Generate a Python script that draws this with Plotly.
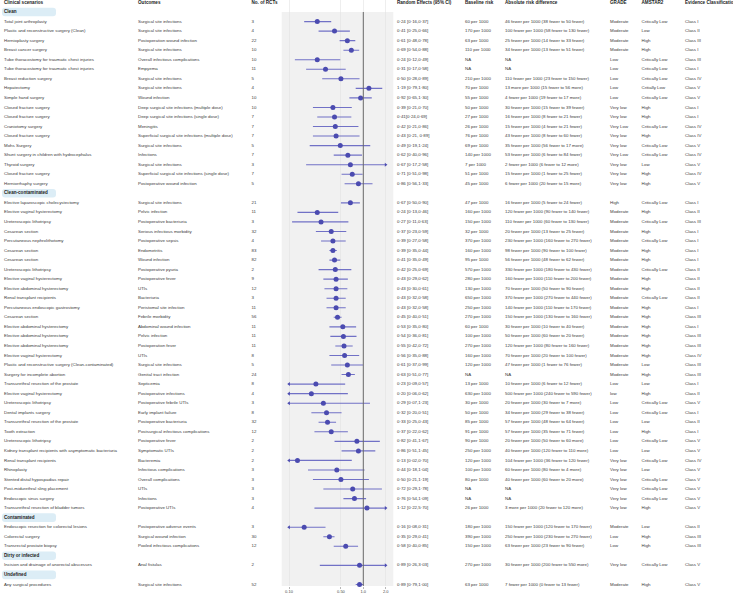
import math
import plotly.graph_objects as go

# ---------------- data ----------------
sections = ["Clean", "Clean-contaminated", "Contaminated", "Dirty or infected", "Undefined"]
section_sizes = [18, 33, 3, 1, 1]

scenarios = [
    "Total joint arthroplasty", "Plastic and reconstructive surgery (Clean)", "Hernioplasty surgery",
    "Breast cancer surgery", "Tube thoracostomy for traumatic chest injuries",
    "Tube thoracostomy for traumatic chest injuries", "Breast reduction surgery", "Hepatectomy",
    "Simple hand surgery", "Closed fracture surgery", "Closed fracture surgery", "Craniotomy surgery",
    "Closed fracture surgery", "Mohs Surgery", "Shunt surgery in children with hydrocephalus",
    "Thyroid surgery", "Closed fracture surgery", "Herniorrhaphy surgery",
    "Elective laparoscopic cholecystectomy", "Elective vaginal hysterectomy", "Ureteroscopic lithotripsy",
    "Cesarean section", "Percutaneous nephrolithotomy", "Cesarean section", "Cesarean section",
    "Ureteroscopic lithotripsy", "Elective vaginal hysterectomy", "Elective abdominal hysterectomy",
    "Renal transplant recipients", "Percutaneous endoscopic gastrostomy", "Cesarean section",
    "Elective abdominal hysterectomy", "Elective abdominal hysterectomy", "Elective abdominal hysterectomy",
    "Elective vaginal hysterectomy", "Plastic and reconstructive surgery (Clean-contaminated)",
    "Surgery for incomplete abortion", "Transurethral resection of the prostate",
    "Elective vaginal hysterectomy", "Ureteroscopic lithotripsy", "Dental implants surgery",
    "Transurethral resection of the prostate", "Tooth extraction", "Ureteroscopic lithotripsy",
    "Kidney transplant recipients with asymptomatic bacteriuria", "Renal transplant recipients",
    "Rhinoplasty", "Stented distal hypospadias repair", "Post-midurethral sling placement",
    "Endoscopic sinus surgery", "Transurethral resection of bladder tumors",
    "Endoscopic resection for colorectal lesions", "Colorectal surgery", "Transrectal prostate biopsy",
    "Incision and drainage of anorectal abscesses",
    "Any surgical procedures",
]

outcomes = [
    "Surgical site infections", "Surgical site infections", "Postoperation wound infection",
    "Surgical site infections", "Overall infectious complications", "Empyema", "Surgical site infections",
    "Surgical site infections", "Wound infection", "Deep surgical site infections (multiple dose)",
    "Deep surgical site infections (single dose)", "Meningitis",
    "Superficial surgical site infections (multiple dose)", "Surgical site infections", "Infections",
    "Surgical site infections", "Superficial surgical site infections (single dose)",
    "Postoperative wound infection",
    "Surgical site infections", "Pelvic infection", "Postoperative bacteriuria",
    "Serious infectious morbidity", "Postoperative sepsis", "Endometritis", "Wound infection",
    "Postoperative pyuria", "Postoperative fever", "UTIs", "Bacteriuria", "Peristomal site infection",
    "Febrile morbidity", "Abdominal wound infection", "Pelvic infection", "Postoperation fever", "UTIs",
    "Surgical site infections", "Genital tract infection", "Septicemia", "Postoperative infections",
    "Postoperative febrile UTIs", "Early implant failure", "Postoperative bacteriuria",
    "Postsurgical infectious complications", "Postoperative fever", "Symptomatic UTIs", "Bacteremia",
    "Infectious complications", "Overall complications", "UTIs", "Infections", "Postoperative UTIs",
    "Postoperative adverse events", "Surgical wound infection", "Pooled infectious complications",
    "Anal fistulas",
    "Surgical site infections",
]

n_rcts = [3, 4, 22, 10, 10, 11, 5, 4, 10, 10, 7, 7, 7, 5, 7, 3, 7, 5,
          21, 11, 3, 32, 4, 83, 82, 2, 9, 12, 3, 11, 56, 11, 11, 11, 8, 5, 24, 8, 4, 3, 8, 32, 12,
          2, 2, 2, 3, 3, 3, 3, 4,
          3, 30, 12,
          2,
          52]

est = [0.24, 0.41, 0.61, 0.69, 0.24, 0.31, 0.50, 1.19, 0.92, 0.39, 0.41, 0.42, 0.43, 0.49, 0.62, 0.67, 0.71, 0.86,
       0.67, 0.24, 0.27, 0.37, 0.39, 0.39, 0.41, 0.42, 0.43, 0.43, 0.43, 0.43, 0.45, 0.53, 0.54, 0.55, 0.56, 0.61,
       0.63, 0.23, 0.20, 0.29, 0.32, 0.33, 0.37, 0.82, 0.86, 0.13, 0.44, 0.50, 0.72, 0.76, 1.12,
       0.16, 0.35, 0.58,
       0.89,
       0.89]
ci_low = [0.16, 0.25, 0.48, 0.54, 0.12, 0.17, 0.28, 0.79, 0.65, 0.21, 0.24, 0.21, 0.21, 0.19, 0.40, 0.17, 0.51, 0.56,
          0.50, 0.13, 0.11, 0.23, 0.27, 0.35, 0.35, 0.25, 0.29, 0.30, 0.32, 0.32, 0.40, 0.35, 0.36, 0.42, 0.35, 0.37,
          0.51, 0.09, 0.06, 0.07, 0.20, 0.25, 0.22, 0.41, 0.51, 0.02, 0.18, 0.21, 0.29, 0.54, 0.22,
          0.08, 0.29, 0.40,
          0.26,
          0.79]
ci_high = [0.37, 0.66, 0.78, 0.88, 0.49, 0.58, 0.89, 1.80, 1.30, 0.70, 0.69, 0.86, 0.89, 1.24, 0.96, 2.58, 0.98, 1.33,
           0.90, 0.46, 0.63, 0.59, 0.58, 0.44, 0.49, 0.69, 0.62, 0.61, 0.58, 0.58, 0.51, 0.80, 0.81, 0.72, 0.88, 0.99,
           0.77, 0.57, 0.62, 1.23, 0.51, 0.43, 0.62, 1.67, 1.45, 0.70, 1.04, 1.19, 1.78, 1.09, 5.70,
           0.31, 0.41, 0.85,
           3.03,
           1.00]

re_labels = [
    "0·24 [0·16,0·37]", "0·41 [0·25,0·66]", "0·61 [0·48,0·78]", "0·69 [0·54,0·88]", "0·24 [0·12,0·49]",
    "0·31 [0·17,0·58]", "0·50 [0·28,0·89]", "1·19 [0·79,1·80]", "0·92 [0·65,1·30]", "0·39 [0·21,0·70]",
    "0·41[0·24,0·69]", "0·42 [0·21,0·86]", "0·43 [0·21, 0·89]", "0·49 [0·19,1·24]", "0·62 [0·40,0·96]",
    "0·67 [0·17,2·58]", "0·71 [0·51,0·98]", "0·86 [0·56,1·33]",
    "0·67 [0·50,0·90]", "0·24 [0·13,0·46]", "0·27 [0·11,0·63]", "0·37 [0·23,0·59]", "0·39 [0·27,0·58]",
    "0·39 [0·35,0·44]", "0·41 [0·35,0·49]", "0·42 [0·25,0·69]", "0·43 [0·29,0·62]", "0·43 [0·30,0·61]",
    "0·43 [0·32,0·58]", "0·43 [0·32,0·58]", "0·45 [0·40,0·51]", "0·53 [0·35,0·80]", "0·54 [0·36,0·81]",
    "0·55 [0·42,0·72]", "0·56 [0·35,0·88]", "0·61 [0·37,0·99]", "0·63 [0·51,0·77]", "0·23 [0·09,0·57]",
    "0·20 [0·06,0·62]", "0·29 [0·07,1·23]", "0·32 [0·20,0·51]", "0·33 [0·25,0·43]", "0·37 [0·22,0·62]",
    "0·82 [0·41,1·67]", "0·86 [0·51,1·45]", "0·13 [0·02,0·70]", "0·44 [0·18,1·04]", "0·50 [0·21,1·19]",
    "0·72 [0·29,1·78]", "0·76 [0·54,1·09]", "1·12 [0·22,5·70]",
    "0·16 [0·08,0·31]", "0·35 [0·29,0·41]", "0·58 [0·40,0·85]",
    "0·89 [0·26,3·03]",
    "0·89 [0·79,1·00]",
]

baseline = [
    "60 per 1000", "170 per 1000", "63 per 1000", "110 per 1000", "NA", "NA", "210 per 1000", "70 per 1000",
    "55 per 1000", "50 per 1000", "27 per 1000", "26 per 1000", "76 per 1000", "69 per 1000", "140 per 1000",
    "7 per 1000", "51 per 1000", "45 per 1000",
    "47 per 1000", "160 per 1000", "150 per 1000", "32 per 1000", "370 per 1000", "160 per 1000", "95 per 1000",
    "570 per 1000", "280 per 1000", "130 per 1000", "650 per 1000", "250 per 1000", "270 per 1000",
    "60 per 1000", "100 per 1000", "270 per 1000", "160 per 1000", "120 per 1000", "NA", "13 per 1000",
    "630 per 1000", "30 per 1000", "50 per 1000", "85 per 1000", "91 per 1000", "90 per 1000", "250 per 1000",
    "120 per 1000", "100 per 1000", "80 per 1000", "NA", "NA", "26 per 1000",
    "180 per 1000", "390 per 1000", "150 per 1000",
    "270 per 1000",
    "63 per 1000",
]

ard = [
    "46 fewer per 1000 (38 fewer to 50 fewer)", "100 fewer per 1000 (58 fewer to 130 fewer)",
    "25 fewer per 1000 (14 fewer to 33 fewer)", "34 fewer per 1000 (13 fewer to 51 fewer)", "NA", "NA",
    "110 fewer per 1000 (23 fewer to 150 fewer)", "13 more per 1000 (15 fewer to 56 more)",
    "4 fewer per 1000 (19 fewer to 17 more)", "30 fewer per 1000 (15 fewer to 39 fewer)",
    "16 fewer per 1000 (8 fewer to 21 fewer)", "15 fewer per 1000 (4 fewer to 21 fewer)",
    "43 fewer per 1000 (8 fewer to 60 fewer)", "35 fewer per 1000 (56 fewer to 17 more)",
    "53 fewer per 1000 (6 fewer to 84 fewer)", "2 fewer per 1000 (6 fewer to 12 more)",
    "15 fewer per 1000 (1 fewer to 25 fewer)", "6 fewer per 1000 (20 fewer to 15 more)",
    "16 fewer per 1000 (5 fewer to 24 fewer)", "120 fewer per 1000 (90 fewer to 140 fewer)",
    "110 fewer per 1000 (60 fewer to 130 fewer)", "20 fewer per 1000 (13 fewer to 25 fewer)",
    "230 fewer per 1000 (160 fewer to 270 fewer)", "98 fewer per 1000 (90 fewer to 100 fewer)",
    "56 fewer per 1000 (48 fewer to 62 fewer)", "330 fewer per 1000 (180 fewer to 430 fewer)",
    "160 fewer per 1000 (110 fewer to 200 fewer)", "70 fewer per 1000 (50 fewer to 90 fewer)",
    "370 fewer per 1000 (270 fewer to 440 fewer)", "140 fewer per 1000 (110 fewer to 170 fewer)",
    "150 fewer per 1000 (130 fewer to 160 fewer)", "30 fewer per 1000 (10 fewer to 40 fewer)",
    "50 fewer per 1000 (60 fewer to 20 fewer)", "120 fewer per 1000 (80 fewer to 160 fewer)",
    "70 fewer per 1000 (20 fewer to 100 fewer)", "47 fewer per 1000 (1 fewer to 76 fewer)", "NA",
    "10 fewer per 1000 (6 fewer to 12 fewer)", "500 fewer per 1000 (240 fewer to 590 fewer)",
    "20 fewer per 1000 (30 fewer to 7 more)", "34 fewer per 1000 (29 fewer to 38 fewer)",
    "57 fewer per 1000 (48 fewer to 64 fewer)", "57 fewer per 1000 (35 fewer to 71 fewer)",
    "20 fewer per 1000 (50 fewer to 60 more)", "40 fewer per 1000 (120 fewer to 110 more)",
    "104 fewer per 1000 (36 fewer to 120 fewer)", "60 fewer per 1000 (80 fewer to 4 more)",
    "40 fewer per 1000 (60 fewer to 20 more)", "NA", "NA", "3 more per 1000 (20 fewer to 120 more)",
    "150 fewer per 1000 (120 fewer to 170 fewer)", "250 fewer per 1000 (230 fewer to 270 fewer)",
    "63 fewer per 1000 (23 fewer to 90 fewer)",
    "30 fewer per 1000 (200 fewer to 550 more)",
    "7 fewer per 1000 (0 fewer to 13 fewer)",
]

grade = (["Moderate"] * 4 + ["Low"] * 5 + ["Very low", "Very low", "Very Low", "Very low", "Very low",
                                              "Very Low", "Very low", "Very low", "Very low"]
         + ["High"] + ["Moderate"] * 18 + ["Low", "low", "Low", "Low", "Low", "Low", "Low", "Low"]
         + ["Very low"] * 6
         + ["Moderate", "Low", "Low"] + ["Very low"] + ["Moderate"])

amstar = [
    "Critically Low", "Low", "High", "High", "Critically Low", "Critically Low", "Critically Low",
    "Critially Low", "Critically Low", "High", "High", "Critically Low", "High", "Critically Low",
    "Critically Low", "Low", "High", "High",
    "Critically Low", "High", "Critically Low", "High", "Critically Low", "High", "High", "Critically Low",
    "High", "High", "Critically Low", "High", "High", "High", "High", "High", "High", "Low", "High", "Low",
    "High", "Critically Low", "Critically Low", "Low", "High", "Critically Low", "Low", "Critically Low",
    "Low", "Critically Low", "Critically Low", "Critically Low", "High",
    "Low", "High", "High",
    "Critically Low",
    "High",
]

evidence = [
    "Class I", "Class II", "Class III", "Class I", "Class III", "Class I", "Class IV", "Class V", "Class V",
    "Class I", "Class I", "Class IV", "Class IV", "Class V", "Class IV", "Class V", "Class IV", "Class V",
    "Class I", "Class II", "Class III", "Class I", "Class I", "Class I", "Class I", "Class II", "Class II",
    "Class II", "Class II", "Class I", "Class III", "Class I", "Class III", "Class III", "Class IV",
    "Class III", "Class III", "Class I", "Class II", "Class V", "Class I", "Class II", "Class I", "Class V",
    "Class V", "Class IV", "Class V", "Class V", "Class V", "Class V", "Class V",
    "Class II", "Class III", "Class III",
    "Class V",
    "Class V",
]

headers = ["Clinical scenarios", "Outcomes", "No. of RCTs", "Random Effects (95% CI)", "Baseline risk",
           "Absolute risk difference", "GRADE", "AMSTAR2", "Evidence Classification"]

x_ticks = [0.1, 0.5, 1.0, 2.0]
x_tick_labels = ["0.10", "0.50", "1.0", "2.0"]

# ---------------- layout constants ----------------
W, H = 733, 596
BOTTOM_MARGIN = 10
PLOT_H = H - BOTTOM_MARGIN
TOP_PX = 2.5
ROW_PX = 9.54
CLIP_LO, CLIP_HI = 0.1, 2.0
FOREST_X0, FOREST_X1 = 281.7, 393.3
ONE_PX = 363.3
DECADE_PX = 74.3
PANEL_TOP_PX = 12
col_x = [4, 138, 251.5, 397, 465, 505, 610, 641.5, 685]

FONT = "Liberation Sans"
TXT = "#3a3a3a"
BODY_SIZE = 4.4
HEAD_SIZE = 4.6
DOT = "#4b4bb0"
LINE = "rgba(90,90,190,0.85)"

# row positions (line index)
sec_y, row_y = [], []
line = 1
for name, k in zip(sections, section_sizes):
    sec_y.append(line)
    line += 1
    for _ in range(k):
        row_y.append(line)
        line += 1

y_range = [(PLOT_H - TOP_PX) / ROW_PX, -TOP_PX / ROW_PX]

fig = go.Figure()

# CI lines
lx, ly = [], []
left_ax, left_ay, right_ax, right_ay = [], [], [], []
for lo, hi, yy in zip(ci_low, ci_high, row_y):
    a = max(lo, CLIP_LO)
    b = min(hi, CLIP_HI)
    lx += [a, b, None]
    ly += [yy, yy, None]
    if lo < CLIP_LO:
        left_ax.append(CLIP_LO); left_ay.append(yy)
    if hi > CLIP_HI:
        right_ax.append(CLIP_HI); right_ay.append(yy)

fig.add_trace(go.Scatter(x=lx, y=ly, mode="lines", line=dict(color=LINE, width=1.1),
                         xaxis="x", yaxis="y", hoverinfo="skip", showlegend=False))
fig.add_trace(go.Scatter(x=left_ax, y=left_ay, mode="markers",
                         marker=dict(symbol="triangle-left", size=3.5, color=DOT),
                         xaxis="x", yaxis="y", showlegend=False, cliponaxis=False))
fig.add_trace(go.Scatter(x=right_ax, y=right_ay, mode="markers",
                         marker=dict(symbol="triangle-right", size=3.5, color=DOT),
                         xaxis="x", yaxis="y", showlegend=False, cliponaxis=False))
fig.add_trace(go.Scatter(x=est, y=row_y, mode="markers",
                         marker=dict(symbol="circle", size=5, color=DOT),
                         xaxis="x", yaxis="y", showlegend=False, cliponaxis=False))

# text columns
def text_col(xpos, ys, texts, bold=False, size=BODY_SIZE, color=TXT):
    t = [("<b>%s</b>" % s) if bold else s for s in texts]
    fig.add_trace(go.Scatter(x=[xpos] * len(ys), y=ys, text=t, mode="text",
                             textposition="middle right",
                             textfont=dict(family=FONT, size=size, color=color),
                             xaxis="x2", yaxis="y", hoverinfo="skip", showlegend=False,
                             cliponaxis=False))

cols = [scenarios, outcomes, [str(v) for v in n_rcts], re_labels, baseline, ard, grade, amstar, evidence]
for cx, vals in zip(col_x, cols):
    text_col(cx, row_y, vals)
for cx, h in zip(col_x, headers):
    text_col(cx, [0], [h], bold=True, size=HEAD_SIZE, color="#222")
text_col(col_x[0], sec_y, sections, bold=True, size=HEAD_SIZE, color="#222")

# shapes
shapes = []
panel_top = 1 - PANEL_TOP_PX / PLOT_H
shapes.append(dict(type="rect", xref="x domain", yref="paper", x0=0, x1=1, y0=0,
                   y1=panel_top, fillcolor="#f1f1f1", line=dict(width=0), layer="below"))

def rrect(x0, x1, yc, h_px, r_px):
    ry = r_px / ROW_PX
    hy = h_px / 2 / ROW_PX
    y0, y1 = yc - hy, yc + hy
    r = r_px
    return (f"M {x0 + r},{y0} L {x1 - r},{y0} Q {x1},{y0} {x1},{y0 + ry} "
            f"L {x1},{y1 - ry} Q {x1},{y1} {x1 - r},{y1} L {x0 + r},{y1} "
            f"Q {x0},{y1} {x0},{y1 - ry} L {x0},{y0 + ry} Q {x0},{y0} {x0 + r},{y0} Z")

for yy in sec_y:
    shapes.append(dict(type="path", xref="x2", yref="y", path=rrect(2, 56, yy, 8.6, 3),
                       fillcolor="#dcedf6", line=dict(width=0), layer="below"))
shapes.append(dict(type="line", xref="x", yref="paper", x0=1, x1=1, y0=0, y1=panel_top,
                   line=dict(color="#6a6a6a", width=1)))

log_lo = -(ONE_PX - FOREST_X0) / DECADE_PX
log_hi = (FOREST_X1 - ONE_PX) / DECADE_PX

fig.update_layout(
    width=W, height=H,
    margin=dict(l=0, r=0, t=0, b=BOTTOM_MARGIN, pad=0),
    paper_bgcolor="white", plot_bgcolor="rgba(0,0,0,0)",
    showlegend=False,
    hovermode=False,
    shapes=shapes,
    xaxis=dict(type="log", domain=[FOREST_X0 / W, FOREST_X1 / W], range=[log_lo, log_hi],
               anchor="y", tickvals=x_ticks, ticktext=x_tick_labels,
               tickfont=dict(family=FONT, size=4, color="#444"),
               ticks="outside", ticklen=1.5, tickcolor="#888", tickwidth=0.6,
               showgrid=True, gridcolor="#e2e2e2", gridwidth=0.6, zeroline=False,
               showline=False, fixedrange=True),
    xaxis2=dict(domain=[0, 1], range=[0, W], anchor="y", visible=False, fixedrange=True),
    yaxis=dict(range=y_range, visible=False, showgrid=False, zeroline=False, fixedrange=True),
)

fig.write_html("out.html", config={"displayModeBar": False, "staticPlot": True},
               post_script="document.body.style.margin='0px';document.body.style.overflow='hidden';")
